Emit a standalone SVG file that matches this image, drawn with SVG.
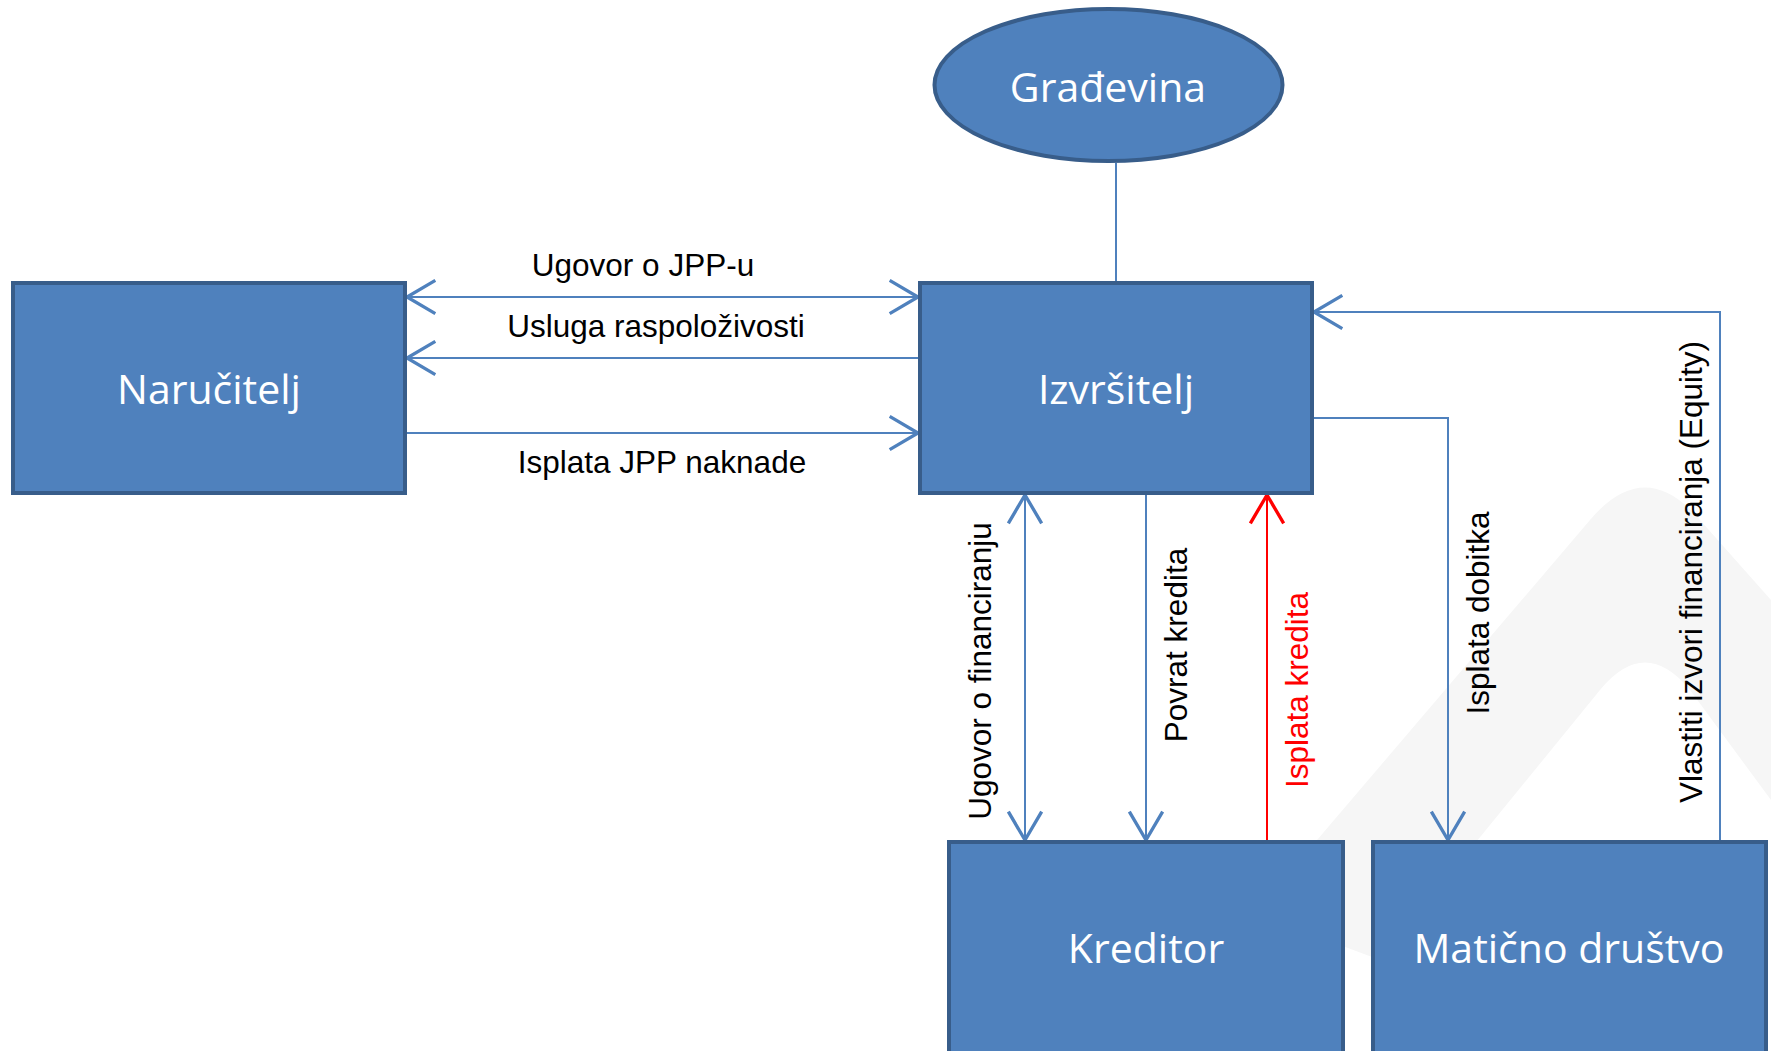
<svg xmlns="http://www.w3.org/2000/svg" width="1771" height="1051" viewBox="0 0 1771 1051">
<style>
.box{fill:#4f81bd;stroke:#385d8a;stroke-width:4}
.nt{font-family:"Open Sans","Noto Sans","Liberation Sans",sans-serif;font-size:41px;fill:#ffffff;text-anchor:middle}
.lb{font-family:"Liberation Sans",Arial,sans-serif;font-size:31.5px;fill:#000000;text-anchor:middle}
.red{fill:#ff0000}
.c{fill:none;stroke:#4f81bd;stroke-width:2}
.cr{fill:none;stroke:#ff0000;stroke-width:2}
</style>
<defs>
<marker id="ab" markerUnits="userSpaceOnUse" markerWidth="40" markerHeight="40" viewBox="-20 -12 22 24" refX="0" refY="0" orient="auto-start-reverse">
<path d="M -17 -10 L 0 0 L -17 10" fill="none" stroke="#4f81bd" stroke-width="2"/>
</marker>
<marker id="ar" markerUnits="userSpaceOnUse" markerWidth="40" markerHeight="40" viewBox="-20 -12 22 24" refX="0" refY="0" orient="auto-start-reverse">
<path d="M -17 -10 L 0 0 L -17 10" fill="none" stroke="#ff0000" stroke-width="2"/>
</marker>
</defs>
<rect width="1771" height="1051" fill="#ffffff"/>
<path d="M 1300 930 L 1300 860 L 1590 520 Q 1645 455 1700 520 L 1771 600 L 1771 800 L 1690 690 Q 1645 635 1600 690 L 1380 960 Z" fill="#f6f6f6"/>

<g id="connectors">
<line class="c" x1="1116" y1="163" x2="1116" y2="281"/>
<line class="c" x1="407" y1="297" x2="918" y2="297" marker-start="url(#ab)" marker-end="url(#ab)"/>
<line class="c" x1="918" y1="358" x2="407" y2="358" marker-end="url(#ab)"/>
<line class="c" x1="407" y1="433" x2="918" y2="433" marker-end="url(#ab)"/>
<line class="c" x1="1025" y1="495" x2="1025" y2="840" marker-start="url(#ab)" marker-end="url(#ab)"/>
<line class="c" x1="1146" y1="495" x2="1146" y2="840" marker-end="url(#ab)"/>
<line class="cr" x1="1267" y1="840" x2="1267" y2="495" marker-end="url(#ar)"/>
<path class="c" d="M 1314 418 L 1448 418 L 1448 840" marker-end="url(#ab)"/>
<path class="c" d="M 1720 840 L 1720 312 L 1314 312" marker-end="url(#ab)"/>
<text class="lb" x="643" y="276">Ugovor o JPP-u</text>
<text class="lb" x="656" y="337">Usluga raspoloživosti</text>
<text class="lb" x="662" y="473">Isplata JPP naknade</text>
<text class="lb" transform="translate(991,671) rotate(-90)">Ugovor o financiranju</text>
<text class="lb" transform="translate(1187,645) rotate(-90)">Povrat kredita</text>
<text class="lb red" transform="translate(1308,690) rotate(-90)">Isplata kredita</text>
<text class="lb" transform="translate(1489,613) rotate(-90)">Isplata dobitka</text>
<text class="lb" transform="translate(1702,572) rotate(-90)">Vlastiti izvori financiranja (Equity)</text>
</g>

<g id="gradevina">
<ellipse class="box" cx="1108.5" cy="85" rx="174" ry="76"/>
<text class="nt" x="1108" y="102">Građevina</text>
</g>
<g id="narucitelj">
<rect class="box" x="13" y="283" width="392" height="210"/>
<text class="nt" x="209" y="404">Naručitelj</text>
</g>
<g id="izvrsitelj">
<rect class="box" x="920" y="283" width="392" height="210"/>
<text class="nt" x="1116" y="404">Izvršitelj</text>
</g>
<g id="kreditor">
<rect class="box" x="949" y="842" width="394" height="230"/>
<text class="nt" x="1146" y="963">Kreditor</text>
</g>
<g id="maticno">
<rect class="box" x="1373" y="842" width="393" height="230"/>
<text class="nt" x="1569" y="963">Matično društvo</text>
</g>
</svg>
